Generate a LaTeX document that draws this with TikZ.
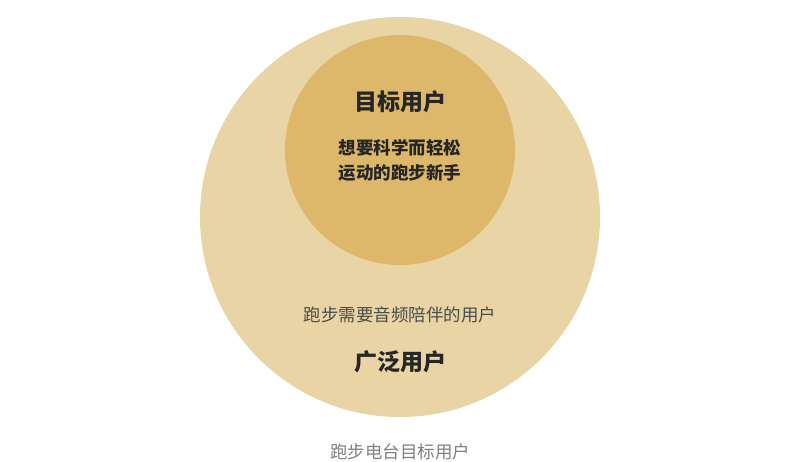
\documentclass[tikz,border=0pt]{standalone}
\usepackage{fontspec}
\setmainfont{Noto Sans CJK SC}
\begin{document}
\begin{tikzpicture}[x=1pt,y=-1pt,
  lbl/.style={inner sep=0pt,anchor=center,text=black!85},
  big/.style={lbl,font=\fontsize{23}{26}\selectfont\bfseries},
  mid/.style={lbl,font=\fontsize{17.5}{25}\selectfont\bfseries,align=center},
  sub/.style={lbl,font=\fontsize{17.5}{22}\selectfont,text=black!70}]
\useasboundingbox (0,0) rectangle (800,461);
\fill[white] (0,0) rectangle (800,461);
\definecolor{outerc}{HTML}{E8D4A4}
\definecolor{innerc}{HTML}{DEB86A}
\node[circle,fill=outerc,minimum size=400pt,inner sep=0pt] (outer) at (400,217) {};
\node[circle,fill=innerc,minimum size=230pt,inner sep=0pt] (inner) at (400,150) {};
\node[big] (t1) at (400,102) {目标用户};
\node[mid] (t2) at (400,160.5) {想要科学而轻松\\运动的跑步新手};
\node[sub] (t3) at (400,315) {跑步需要音频陪伴的用户};
\node[big] (t4) at (400,362) {广泛用户};
\node[sub,text=black!50] (t5) at (400,452) {跑步电台目标用户};
\end{tikzpicture}
\end{document}
